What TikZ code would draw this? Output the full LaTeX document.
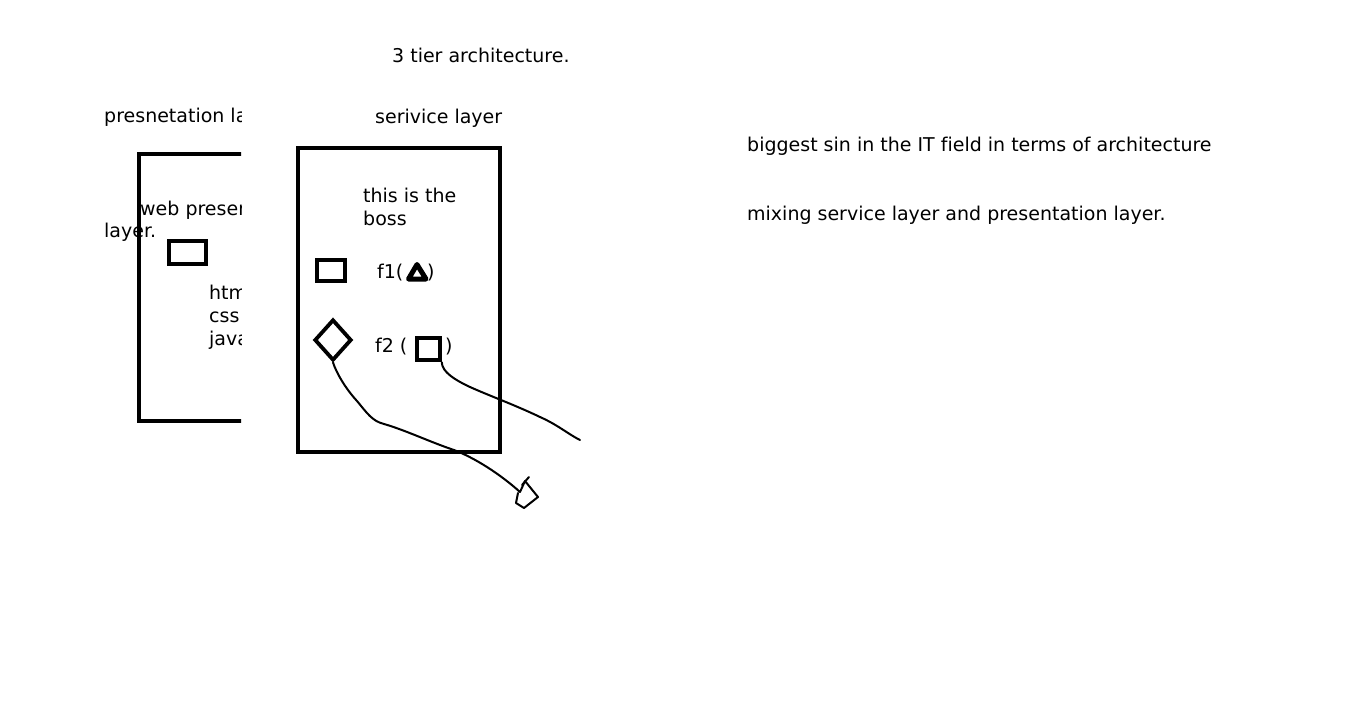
\documentclass[tikz,border=0pt]{standalone}
\usepackage{fontspec}
\setmainfont{DejaVu Sans}[Ligatures=NoCommon]
\usetikzlibrary{positioning, shapes.geometric}
\tikzset{
  layerbox/.style = {draw, line width=4.2pt, line join=miter},
  minibox/.style  = {rectangle, draw, line width=4pt, inner sep=0},
  txt/.style      = {anchor=base west, inner sep=0, font=\fontsize{19}{22}\selectfont},
  scrawl/.style   = {line width=2pt, line cap=round, line join=round}
}

\begin{document}
\begin{tikzpicture}[x=1pt, y=-1pt]
  \useasboundingbox[fill=white] (0,0) rectangle (1360,715);

  \node[txt] (title) at (392,62) {3 tier architecture.};

  % presentation layer, cut off on the right
  \begin{scope}
    \clip (0,0) rectangle (241,715);
    \node[txt] (presname) at (104,122) {presnetation layer};
    \draw[layerbox] (139,154) rectangle (320,421);
    \node[txt] (webp) at (140,215) {web presentation};
    \node[minibox, minimum width=37pt, minimum height=23pt] (pbox) at (187.5,252.5) {};
    \node[txt] (html) at (209,299) {html};
    \node[txt] (css)  at (209,322) {css};
    \node[txt] (js)   at (209,345) {javascript};
  \end{scope}
  \node[txt] (webl) at (104,237) {layer.};

  % service layer
  \node[txt] (servname) at (375,123) {serivice layer};
  \draw[layerbox] (298,148) rectangle (500,452);
  \node[txt] (boss1) at (363,202) {this is the};
  \node[txt] (boss2) at (363,225) {boss};
  \node[minibox, minimum width=28pt, minimum height=21pt] (sbox) at (331,270.5) {};
  \node[txt] (f1) at (377,278) {f1(};
  \draw[line width=5pt, line join=round] (417,264.5) -- (408.5,279) -- (426,279) -- cycle;
  \node[txt] (f1r) at (427,278) {)};
  \node[diamond, draw, line width=3.8pt, inner sep=0, minimum width=37pt,
        minimum height=41pt] (dia) at (333,340) {};
  \node[txt] (f2) at (375,352) {f2 (};
  \node[minibox, minimum size=22.5pt] (sq2) at (428.5,349) {};
  \node[txt] (f2r) at (445,352) {)};

  % scribbled lines
  \coordinate (tip) at (520,492);
  \coordinate (loose) at (580,440);
  \draw[scrawl] (dia.south) .. controls (336,372) and (345,388) .. (357,401)
    .. controls (367,413) and (372,421) .. (384,424)
    .. controls (405,430) and (430,442) .. (454,450)
    .. controls (475,458) and (500,474) .. (tip);
  \draw[scrawl] (tip) -- (525,481) -- (538,497) -- (524,508) -- (516,503) -- (518,493);
  \draw[scrawl] (522,485) -- (529,477);
  \draw[scrawl] (sq2.south east) .. controls (442,372) and (455,380) .. (470,387)
    .. controls (490,396) and (515,405) .. (540,417)
    .. controls (558,425) and (568,434) .. (loose);

  % remarks
  \node[txt] (sin) at (747,151) {biggest sin in the IT field in terms of architecture};
  \node[txt] (mix) at (747,220) {mixing service layer and presentation layer.};
\end{tikzpicture}
\end{document}
